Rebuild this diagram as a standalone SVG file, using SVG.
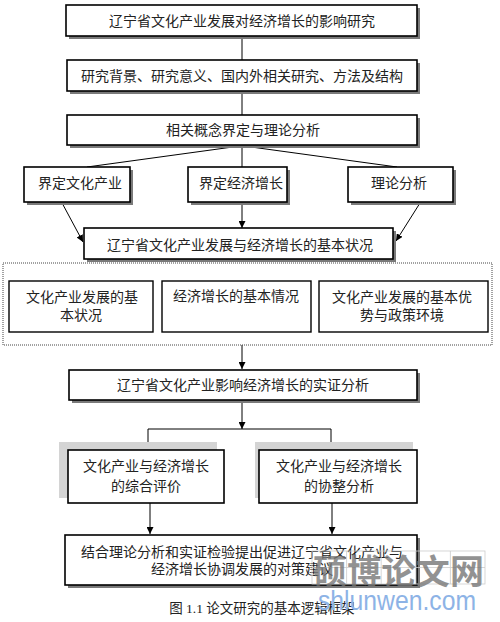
<svg xmlns="http://www.w3.org/2000/svg" width="500" height="622" viewBox="0 0 500 622">
<defs>
<marker id="ah" viewBox="0 0 10 10" refX="10" refY="5" markerWidth="7" markerHeight="7" markerUnits="userSpaceOnUse" orient="auto">
<path d="M0,0 L10,5 L0,10 z" fill="#000"/>
</marker>
</defs>
<style>
.box{fill:#fff;stroke:#000;stroke-width:1.6}
.ibox{fill:#fff;stroke:#000;stroke-width:1.4}
.sh{fill:#7a7a7a}
.lsh{fill:#d4d4d4}
.t{font-family:"Liberation Serif","Noto Sans CJK SC",serif;font-size:14px;fill:#222;text-anchor:middle}
.c{fill:none;stroke:#000;stroke-width:1}
.a{fill:none;stroke:#000;stroke-width:1;marker-end:url(#ah)}
.wm{font-family:"Noto Sans CJK SC",sans-serif;font-weight:bold;font-size:34px;fill:#777;opacity:0.8}
.wm2{font-family:"Liberation Sans","DejaVu Sans",sans-serif;font-size:28px;fill:#8db3e6}
.g{fill:none;stroke:#ccc;stroke-width:0.8}
</style>
<rect width="500" height="622" fill="#fff"/>
<g id="connectors">
<path class="c" d="M242,36 V60"/>
<path class="c" d="M242,91 V115"/>
<path class="c" d="M240,146 L87,167"/>
<path class="c" d="M242,146 V167"/>
<path class="c" d="M244,146 L397,167"/>
<path class="a" d="M61,201 L83,242"/>
<path class="a" d="M242,202 V228"/>
<path class="a" d="M420,203 L396,241"/>
<path class="a" d="M242,345 V369"/>
<path class="a" d="M242,400 V429"/>
<path class="c" d="M148,450 V429 H331 V450"/>
<path class="a" d="M150,503 V534"/>
<path class="a" d="M332,503 V534"/>
</g>
<g id="n1"><rect class="sh" x="69" y="8" width="351" height="31"/><rect class="box" x="66" y="5" width="351" height="31"/><text class="t" x="242" y="26">辽宁省文化产业发展对经济增长的影响研究</text></g>
<g id="n2"><rect class="sh" x="70" y="63" width="350" height="31"/><rect class="box" x="67" y="60" width="350" height="31"/><text class="t" x="242" y="81">研究背景、研究意义、国内外相关研究、方法及结构</text></g>
<g id="n3"><rect class="sh" x="70" y="118" width="350" height="30"/><rect class="box" x="67" y="115" width="350" height="30"/><text class="t" x="243" y="135">相关概念界定与理论分析</text></g>
<g id="n4"><rect class="sh" x="27" y="170" width="106" height="35"/><rect class="box" x="24" y="167" width="106" height="35"/><text class="t" x="80" y="188">界定文化产业</text></g>
<g id="n5"><rect class="sh" x="191" y="170" width="99" height="35"/><rect class="box" x="188" y="167" width="99" height="35"/><text class="t" x="241" y="188">界定经济增长</text></g>
<g id="n6"><rect class="sh" x="351" y="170" width="105" height="35"/><rect class="box" x="348" y="167" width="105" height="35"/><text class="t" x="399" y="188">理论分析</text></g>
<g id="n7"><rect class="sh" x="87" y="231" width="309" height="31"/><rect class="box" x="84" y="228" width="309" height="31"/><text class="t" x="240" y="250">辽宁省文化产业发展与经济增长的基本状况</text></g>
<g id="group"><rect x="3" y="263" width="489" height="82" fill="none" stroke="#444" stroke-width="1" stroke-dasharray="1,1"/></g>
<g id="n8"><rect class="ibox" x="9" y="281" width="144" height="51"/><text class="t" x="82" y="302">文化产业发展的基</text><text class="t" x="81" y="320">本状况</text></g>
<g id="n9"><rect class="ibox" x="162" y="281" width="149" height="51"/><text class="t" x="236" y="301">经济增长的基本情况</text></g>
<g id="n10"><rect class="ibox" x="319" y="281" width="169" height="51"/><text class="t" x="402" y="302">文化产业发展的基本优</text><text class="t" x="402" y="320">势与政策环境</text></g>
<g id="n11"><rect class="sh" x="72" y="373" width="348" height="30"/><rect class="box" x="69" y="370" width="348" height="30"/><text class="t" x="243" y="390">辽宁省文化产业影响经济增长的实证分析</text></g>
<g id="n12"><rect class="lsh" x="59" y="442" width="158" height="56"/><rect class="box" x="68" y="450" width="156" height="53"/><text class="t" x="146" y="471">文化产业与经济增长</text><text class="t" x="146" y="491">的综合评价</text></g>
<g id="n13"><rect class="lsh" x="255" y="442" width="158" height="56"/><rect class="box" x="259" y="450" width="158" height="53"/><text class="t" x="339" y="471">文化产业与经济增长</text><text class="t" x="339" y="491">的协整分析</text></g>
<g id="n14"><rect class="sh" x="68" y="538" width="352" height="50"/><rect class="box" x="65" y="535" width="352" height="50"/><text class="t" x="242" y="557">结合理论分析和实证检验提出促进辽宁省文化产业与</text><text class="t" x="242" y="574">经济增长协调发展的对策建议</text></g>
<text class="t" x="262" y="613" style="font-size:13.5px">图 1.1 论文研究的基本逻辑框架</text>
<g id="watermark">
<rect class="g" x="312" y="551" width="173" height="33"/>
<path class="g" d="M346.6,551 V584 M381.2,551 V584 M415.8,551 V584 M450.4,551 V584 M312,567.5 H485"/>
<text class="wm" x="313" y="584" textLength="171">硕博论文网</text>
<text class="wm2" x="318" y="610" textLength="158" lengthAdjust="spacingAndGlyphs">shlunwen.com</text>
</g>
</svg>
